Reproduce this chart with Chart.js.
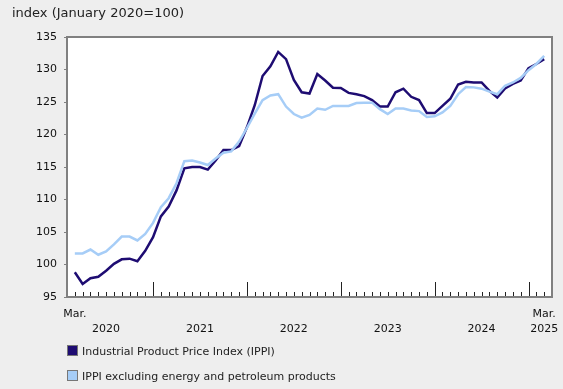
<!DOCTYPE html>
<html>
<head>
<meta charset="utf-8">
<script src="https://cdn.jsdelivr.net/npm/chart.js@4"></script>
<style>
  body { margin: 0; background: #eeeeee; font-family: "DejaVu Sans", Verdana, sans-serif; }
  #wrap { position: relative; width: 563px; height: 389px; }
  #chart { display: block; }
  #title { position: absolute; left: 12px; top: 5px; font-size: 13px; line-height: 16px; color: #222; }
  .leg { position: absolute; left: 67px; font-size: 11px; line-height: 14px; color: #222; }
  .leg span { display: inline-block; width: 9px; height: 9px; border: 1px solid #777; vertical-align: -1px; margin-right: 4px; }
</style>
</head>
<body>
<div id="wrap">
  <canvas id="chart" width="563" height="389"></canvas>
  <div id="title">index (January 2020=100)</div>
  <div class="leg" style="top:345px"><span style="background:#1e0c72"></span>Industrial Product Price Index (IPPI)</div>
  <div class="leg" style="top:370px"><span style="background:#a6cdf7"></span>IPPI excluding energy and petroleum products</div>
</div>
<script>
// --------------------
// Data (monthly, March 2020 to March 2025)
// --------------------
const startYear = 2020;
const startMonth = 3;
const years = ["2020", "2021", "2022", "2023", "2024", "2025"];
const yTicks = [95, 100, 105, 110, 115, 120, 125, 130, 135];

const ippi = [
  98.8, 97.0, 97.9, 98.1, 99.05, 100.1, 100.8, 100.9, 100.5, 102.1,
  104.2, 107.4, 108.9, 111.4, 114.8, 115.0, 115.0, 114.6, 116.0, 117.6,
  117.6, 118.2, 121.1, 124.5, 129.0, 130.5, 132.7, 131.6, 128.4, 126.5,
  126.3, 129.3, 128.3, 127.2, 127.15, 126.4, 126.2, 125.9, 125.3, 124.3,
  124.3, 126.5, 127.05, 125.8, 125.3, 123.3, 123.3, 124.4, 125.5, 127.7,
  128.1, 128.0, 128.0, 126.7, 125.7, 127.1, 127.8, 128.3, 130.2, 130.85, 131.6
];

const ippiExEnergy = [
  101.7, 101.7, 102.3, 101.5, 102.0, 103.1, 104.3, 104.3, 103.7, 104.7,
  106.4, 108.8, 110.2, 112.5, 115.9, 116.0, 115.7, 115.3, 116.3, 117.2,
  117.4, 118.9, 121.0, 123.2, 125.3, 126.0, 126.2, 124.3, 123.15, 122.6,
  123.0, 124.0, 123.8, 124.4, 124.4, 124.4, 124.85, 124.9, 124.9, 123.9,
  123.15, 124.0, 124.0, 123.7, 123.6, 122.7, 122.8, 123.4, 124.4, 126.2,
  127.3, 127.25, 127.05, 126.6, 126.2, 127.5, 128.0, 128.7, 129.9, 130.85, 132.1
];

// month index of January for a given year (relative to March 2020)
function janIndex(y) {
  return (y - startYear) * 12 + (1 - startMonth);
}
const lastIdx = ippi.length - 1;

// x tick labels: "Mar." under first and last points, years centred between Januaries
const xLabelTicks = [{ value: 0, label: ["Mar.", ""] }];
years.forEach((y, k) => {
  const yr = Number(y);
  if (k === years.length - 1) {
    xLabelTicks.push({ value: lastIdx, label: ["Mar.", y] });
  } else {
    xLabelTicks.push({ value: janIndex(yr) + 6, label: ["", y] });
  }
});

const toPoints = arr => arr.map((v, i) => ({ x: i, y: v }));

// --------------------
// Plugins: white plot area, frame, inner month ticks
// --------------------
const plotFrame = {
  id: "plotFrame",
  beforeDraw(chart) {
    const a = chart.chartArea, ctx = chart.ctx;
    ctx.save();
    ctx.fillStyle = "#ffffff";
    ctx.fillRect(a.left, a.top, a.right - a.left, a.bottom - a.top);
    ctx.restore();
  },
  afterDraw(chart) {
    const a = chart.chartArea, ctx = chart.ctx;
    const xs = chart.scales.x;
    ctx.save();
    ctx.strokeStyle = "#222";
    ctx.lineWidth = 1;
    for (let i = 0; i <= lastIdx; i++) {
      const px = Math.round(xs.getPixelForValue(i)) + 0.5;
      const month = (startMonth - 1 + i) % 12;
      const len = month === 0 ? 15 : 5;
      ctx.beginPath();
      ctx.moveTo(px, a.bottom);
      ctx.lineTo(px, a.bottom - len);
      ctx.stroke();
    }
    ctx.strokeStyle = "#808080";
    ctx.lineWidth = 2;
    ctx.strokeRect(a.left, a.top, a.right - a.left, a.bottom - a.top);
    ctx.restore();
  }
};

new Chart(document.getElementById("chart"), {
  type: "line",
  data: {
    datasets: [
      {
        label: "Industrial Product Price Index (IPPI)",
        data: toPoints(ippi),
        borderColor: "#1e0c72",
        borderWidth: 2.5,
        pointRadius: 0,
        tension: 0,
        order: 2
      },
      {
        label: "IPPI excluding energy and petroleum products",
        data: toPoints(ippiExEnergy),
        borderColor: "#a6cdf7",
        borderWidth: 2.5,
        pointRadius: 0,
        tension: 0,
        order: 1
      }
    ]
  },
  plugins: [plotFrame],
  options: {
    responsive: false,
    animation: false,
    layout: { padding: { top: 37, right: 11, bottom: 0, left: 0 } },
    plugins: { legend: { display: false }, tooltip: { enabled: false } },
    scales: {
      x: {
        type: "linear",
        min: -1,
        max: lastIdx + 1,
        grid: { display: false },
        border: { display: false },
        afterBuildTicks: s => { s.ticks = xLabelTicks.map(t => ({ value: t.value })); },
        afterFit: s => { s.height = 389 - 297; },
        ticks: {
          autoSkip: false,
          maxRotation: 0,
          padding: 2,
          color: "#111",
          font: { family: "DejaVu Sans", size: 11, lineHeight: "15px" },
          callback: (v) => {
            const t = xLabelTicks.find(t => t.value === v);
            return t ? t.label : "";
          }
        }
      },
      y: {
        min: 95,
        max: 135,
        afterBuildTicks: s => { s.ticks = yTicks.map(v => ({ value: v })); },
        afterFit: s => { s.width = 67; },
        grid: { drawOnChartArea: false, tickLength: 3, color: "#808080" },
        border: { display: false },
        ticks: {
          padding: 7,
          color: "#111",
          font: { family: "DejaVu Sans", size: 11 }
        }
      }
    }
  }
});
</script>
</body>
</html>
